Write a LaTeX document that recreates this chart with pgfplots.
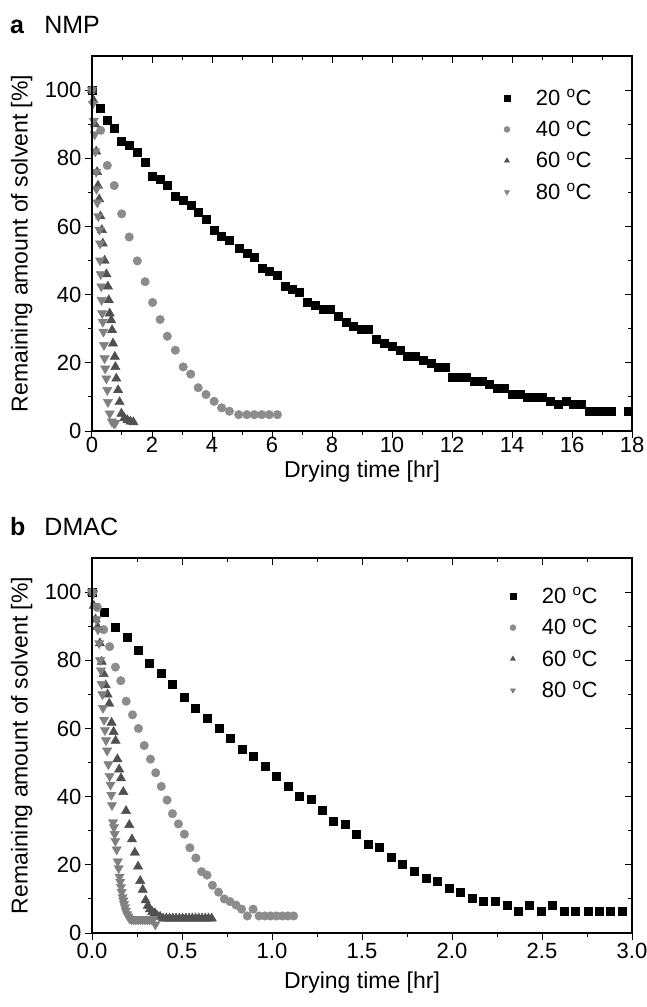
\documentclass[border=0pt]{standalone}
\usepackage{fontspec}
\setmainfont{Liberation Sans}
\usepackage{pgfplots}
\pgfplotsset{compat=1.18}
\definecolor{c40}{HTML}{8C8C8C}
\definecolor{c60}{HTML}{505050}
\definecolor{c80}{HTML}{808080}
\pgfplotsset{
  common/.style={
    scale only axis, width=540pt, height=375pt,
    ymin=0, ymax=110,
    ytick={0,20,...,100},
    minor y tick num=1,
    axis line style={line width=1.1pt},
    major tick length=7pt, minor tick length=4pt,
    every tick/.append style={line width=1pt, black},
    tick label style={font=\fontsize{22}{26}\selectfont},
    /pgf/number format/assume math mode=true,
    label style={font=\fontsize{23}{27}\selectfont},
  },
  mainax/.style={common, tick align=outside, xtick pos=bottom, ytick pos=left,
    ylabel={Remaining amount of solvent [\%]},
    xlabel={Drying time [hr]},
    ylabel style={at={(axis description cs:-0.13,0.5)}, anchor=center},
    legend cell align=left,
    legend image post style={mark size=3pt},
  },
  overax/.style={common, tick align=inside, xtick pos=top, ytick pos=right,
    xticklabels={}, yticklabels={}},
  s20/.style={only marks, mark=square*, mark size=4pt, color=black},
  s40/.style={only marks, mark=*, mark size=4.3pt, color=c40},
  s60/.style={only marks, mark=triangle*, mark size=5.4pt, color=c60},
  s80/.style={only marks, mark=triangle*, mark size=5.4pt, color=c80, mark options={rotate=180}},
}
\begin{document}
\begin{tikzpicture}
\path[use as bounding box] (0,0) rectangle (646pt,-1007pt);
\node[anchor=base west, font=\fontsize{25}{30}\selectfont, inner sep=0pt] at (10pt,-33pt) {\textbf{a}\hspace{20pt}NMP};
\node[anchor=base west, font=\fontsize{25}{30}\selectfont, inner sep=0pt] at (10pt,-535pt) {\textbf{b}\hspace{19pt}DMAC};
% ---------- panel a ----------
\begin{axis}[mainax, at={(92pt,-431pt)}, anchor=south west,
  xmin=0, xmax=18, xtick={0,2,...,18}, minor x tick num=1,
  xticklabel style={yshift=4pt},
  xlabel style={at={(axis description cs:0.5,-0.107)}, anchor=center},
  legend style={draw=none, fill=none, at={(0.757,0.922)}, anchor=north west,
    font=\fontsize{22}{26}\selectfont, row sep=10pt, column sep=24pt}]
\addplot[s20] coordinates {
(0,100) (0.27,94.8) (0.52,91.1) (0.74,88.9) (0.99,85.0) (1.24,83.9) (1.51,81.9) (1.77,78.8)
(2.02,74.7) (2.27,73.9) (2.51,72.0) (2.78,68.8) (3.04,67.8) (3.29,66.2) (3.54,64.1) (3.80,62.0)
(4.07,58.8) (4.32,57.1) (4.58,55.9) (4.89,53.6) (5.16,52.2) (5.41,50.9) (5.66,47.9) (5.91,46.8)
(6.18,45.8) (6.43,42.6) (6.68,41.7) (6.91,40.7) (7.18,37.7) (7.43,36.8) (7.69,35.8) (7.93,35.8)
(8.19,33.8) (8.46,31.8) (8.71,30.8) (8.97,29.8) (9.21,29.8) (9.47,26.9) (9.74,25.9) (10.02,24.9)
(10.27,23.7) (10.51,22.0) (10.77,22.0) (11.04,20.8) (11.30,19.8) (11.54,18.8) (11.77,18.8)
(11.99,15.7) (12.21,15.7) (12.47,15.7) (12.73,14.7) (13.00,14.7) (13.25,13.7) (13.49,12.7)
(13.74,12.7) (14.01,10.8) (14.27,10.8) (14.51,9.8) (14.77,9.8) (15.01,9.8) (15.27,8.8)
(15.54,7.8) (15.79,8.8) (16.04,7.8) (16.29,7.8) (16.58,5.9) (16.82,5.9) (17.07,5.9) (17.32,5.9)
(17.86,5.9)};
\addlegendentry{20 \textsuperscript{o}C}
\addplot[s40] coordinates {
(0,100) (0.29,88.2) (0.51,77.9) (0.74,72.0) (0.99,63.7) (1.24,56.9) (1.51,49.9) (1.77,43.8)
(2.02,37.7) (2.27,32.7) (2.51,27.8) (2.78,23.7) (3.04,18.8) (3.29,16.7) (3.54,12.7) (3.80,10.7)
(4.07,8.7) (4.32,6.8) (4.58,5.8) (4.89,4.8) (5.16,4.8) (5.41,4.8) (5.66,4.8) (5.91,4.8) (6.18,4.8)};
\addlegendentry{40 \textsuperscript{o}C}
\addplot[s60] coordinates {
(0,100) (0.05,97) (0.10,90) (0.14,82) (0.17,76) (0.20,72) (0.24,68) (0.28,63) (0.33,59)
(0.36,55) (0.42,50) (0.48,46) (0.53,42.4) (0.56,38.4) (0.59,34.5) (0.64,32.5) (0.67,29.6)
(0.70,25.7) (0.76,21.8) (0.78,18.8) (0.81,15.4) (0.87,12) (0.92,8.5) (0.98,5.1) (1.08,3.8)
(1.18,3.2) (1.28,2.8) (1.38,2.6)};
\addlegendentry{60 \textsuperscript{o}C}
\addplot[s80] coordinates {
(0,100) (0.03,96) (0.06,91) (0.09,87) (0.11,82) (0.14,76) (0.15,71) (0.18,67) (0.21,63)
(0.25,59) (0.27,55) (0.27,50) (0.29,46) (0.31,42.4) (0.32,38.4) (0.34,34.5) (0.36,32)
(0.38,29.1) (0.40,25.2) (0.42,21.3) (0.44,18.3) (0.48,15.4) (0.51,12) (0.53,8.5) (0.59,5.1)
(0.66,2.8) (0.73,2.2) (0.78,2.4)};
\addlegendentry{80 \textsuperscript{o}C}
\end{axis}
\begin{axis}[overax, at={(92pt,-431pt)}, anchor=south west,
  xmin=0, xmax=18, xtick={0,2,...,18}, minor x tick num=1]
\end{axis}
% ---------- panel b ----------
\begin{axis}[mainax, at={(92pt,-933pt)}, anchor=south west,
  xmin=0, xmax=3, xtick={0,0.5,...,3}, minor x tick num=1,
  xticklabel style={/pgf/number format/.cd, fixed, fixed zerofill, precision=1},
  xlabel style={at={(axis description cs:0.5,-0.133)}, anchor=center},
  legend style={draw=none, fill=none, at={(0.768,0.932)}, anchor=north west,
    font=\fontsize{22}{26}\selectfont, row sep=10pt, column sep=24pt}]
\addplot[s20] coordinates {
(0,100) (0.065,94) (0.131,89.8) (0.193,86.9) (0.257,83) (0.319,79.1) (0.383,76.1) (0.448,73)
(0.513,69.1) (0.576,66) (0.641,63.1) (0.706,60.1) (0.770,57.1) (0.833,54) (0.896,52)
(0.961,48.9) (1.026,46.1) (1.091,43.2) (1.152,40.1) (1.215,39.2) (1.280,36.1) (1.341,32.9)
(1.406,32) (1.470,29) (1.535,26.1) (1.597,25.1) (1.661,22.1) (1.726,20.1) (1.791,18)
(1.854,16) (1.917,15.1) (1.983,13.1) (2.046,12.1) (2.111,10.2) (2.174,9.2) (2.239,9.2)
(2.304,8.2) (2.369,6.3) (2.430,8.2) (2.494,6.3) (2.559,8.2) (2.624,6.3) (2.687,6.3)
(2.754,6.3) (2.817,6.3) (2.878,6.3) (2.943,6.3)};
\addlegendentry{20 \textsuperscript{o}C}
\addplot[s40] coordinates {
(0,100) (0.03,95.5) (0.065,89) (0.098,84) (0.13,78) (0.16,74) (0.19,68) (0.225,64) (0.258,60)
(0.29,55) (0.325,51) (0.354,47) (0.385,43) (0.417,39) (0.447,35) (0.48,32) (0.513,29)
(0.544,25) (0.577,22) (0.609,18) (0.639,17) (0.669,14) (0.703,12) (0.735,10) (0.767,9.2)
(0.80,8.2) (0.831,7) (0.863,5) (0.895,7) (0.928,5) (0.96,5) (0.992,5) (1.025,5) (1.057,5)
(1.088,5) (1.12,5)};
\addlegendentry{40 \textsuperscript{o}C}
\addplot[s60] coordinates {
(0,100) (0.01,96) (0.02,92) (0.031,89.8) (0.044,85) (0.054,79.6) (0.065,76) (0.076,72.7)
(0.086,70) (0.096,67.3) (0.109,61.7) (0.12,59) (0.131,56.4) (0.141,51) (0.151,48) (0.161,45.4)
(0.174,41.4) (0.189,35.8) (0.207,31.7) (0.222,27.5) (0.238,23.6) (0.256,19.5) (0.268,15.3)
(0.282,12.7) (0.298,9.6) (0.31,8) (0.322,7) (0.335,6.2) (0.35,5.8) (0.363,5) (0.378,4.8)
(0.395,4.3) (0.413,4.3) (0.431,4.3) (0.449,4.3) (0.467,4.3) (0.485,4.3) (0.503,4.3) (0.521,4.3)
(0.539,4.3) (0.557,4.3) (0.575,4.3) (0.593,4.3) (0.611,4.3) (0.629,4.3) (0.647,4.3) (0.665,4.3)};
\addlegendentry{60 \textsuperscript{o}C}
\addplot[s80] coordinates {
(0,100) (0.007,99.5) (0.017,96) (0.025,92) (0.033,89) (0.04,85) (0.045,80) (0.05,77)
(0.054,73) (0.058,70) (0.061,66) (0.067,62.5) (0.072,59.5) (0.078,56.5) (0.084,53.5)
(0.091,49.5) (0.098,46) (0.103,43.5) (0.107,40.5) (0.111,37.5) (0.117,32.5) (0.122,31)
(0.126,29) (0.13,27) (0.137,24.5) (0.143,21) (0.148,19) (0.153,16.5) (0.157,15) (0.161,13.5)
(0.165,12) (0.17,10.5) (0.174,9.5) (0.178,8.5) (0.183,7.5) (0.188,6.5) (0.195,5.5) (0.202,4.8)
(0.21,4.2) (0.22,4) (0.23,4) (0.24,4) (0.25,4) (0.26,4) (0.27,4) (0.28,4) (0.29,4) (0.30,4)
(0.31,4) (0.32,4) (0.33,4) (0.34,4) (0.352,2.5)};
\addlegendentry{80 \textsuperscript{o}C}
\end{axis}
\begin{axis}[overax, at={(92pt,-933pt)}, anchor=south west,
  xmin=0, xmax=3, xtick={0,0.5,...,3}, minor x tick num=1]
\end{axis}
\end{tikzpicture}
\end{document}
